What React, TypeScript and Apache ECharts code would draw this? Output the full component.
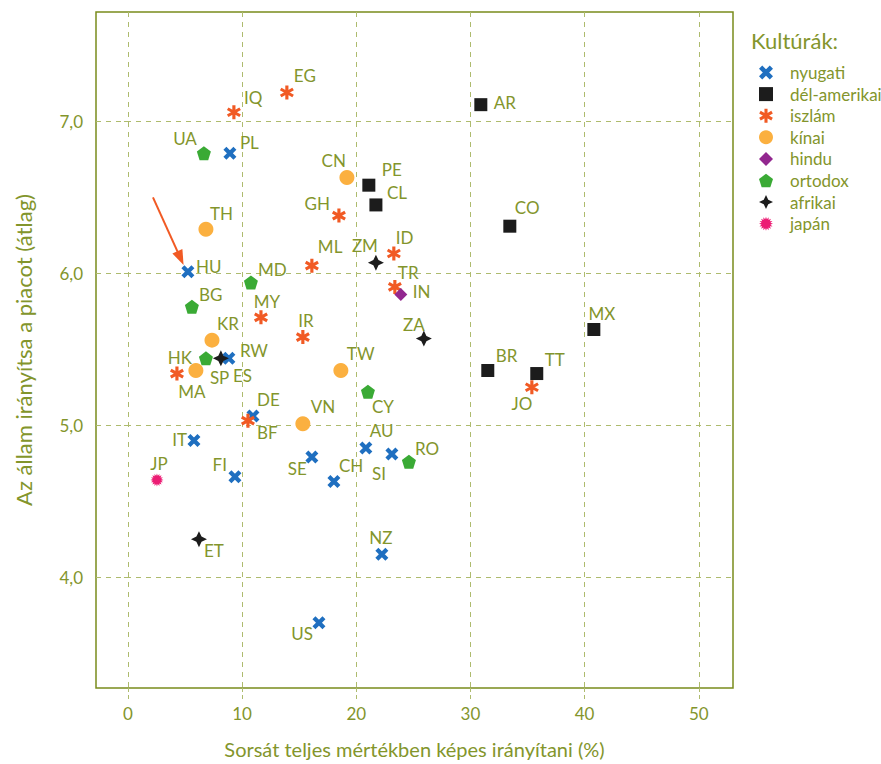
import React, { useEffect, useRef } from 'react';
import * as echarts from 'echarts';

type Pt = [string, number, number];

const categories = ['nyugati', 'dél-amerikai', 'iszlám', 'kínai', 'hindu', 'ortodox', 'afrikai', 'japán'];

const nyugati: Pt[] = [
  ['PL', 8.93, 6.79], ['HU', 5.25, 6.01], ['ES', 8.84, 5.44], ['DE', 10.95, 5.06],
  ['IT', 5.78, 4.90], ['AU', 20.84, 4.85], ['SI', 23.12, 4.81], ['SE', 16.11, 4.79],
  ['FI', 9.37, 4.66], ['CH', 18.04, 4.63], ['NZ', 22.24, 4.15], ['US', 16.73, 3.70],
];
const delAmerikai: Pt[] = [
  ['AR', 30.91, 7.11], ['PE', 21.10, 6.58], ['CL', 21.72, 6.45], ['CO', 33.45, 6.31],
  ['MX', 40.81, 5.63], ['BR', 31.52, 5.36], ['TT', 35.81, 5.34],
];
const iszlam: Pt[] = [
  ['IQ', 9.28, 7.06], ['EG', 13.92, 7.19], ['GH', 18.48, 6.38], ['ML', 16.11, 6.05],
  ['ID', 23.29, 6.13], ['TR', 23.38, 5.91], ['MY', 11.65, 5.71], ['IR', 15.32, 5.58],
  ['MA', 4.29, 5.34], ['BF', 10.51, 5.03], ['JO', 35.38, 5.25],
];
const kinai: Pt[] = [
  ['CN', 19.18, 6.63], ['TH', 6.83, 6.29], ['KR', 7.36, 5.56], ['SP', 5.95, 5.36],
  ['TW', 18.65, 5.36], ['VN', 15.32, 5.01],
];
const hindu: Pt[] = [['IN', 23.9, 5.86]];
const ortodox: Pt[] = [
  ['UA', 6.65, 6.79], ['MD', 10.77, 5.94], ['BG', 5.6, 5.78], ['HK', 6.83, 5.44],
  ['CY', 21.02, 5.22], ['RO', 24.61, 4.76],
];
const afrikai: Pt[] = [['ZM', 21.72, 6.07], ['ZA', 25.92, 5.57], ['RW', 8.14, 5.44], ['ET', 6.22, 4.25]];
const japan: Pt[] = [['JP', 2.54, 4.64]];

const xTicks = [0, 10, 20, 30, 40, 50];
const yTicks = [4, 5, 6, 7];
const arrowFrom = [2.19, 6.5];
const arrowTo = [4.6, 6.1];

// label placement: [align, dx, dy] relative to marker centre (styling, not data)
const labelPlacement: Record<string, [string, number, number]> = {
  IQ: ['left', 10, -15], EG: ['left', 7, -17], UA: ['right', -7, -15], PL: ['left', 10, -11],
  CN: ['right', -1, -17], PE: ['left', 13, -16], CL: ['left', 11, -12], GH: ['right', -9, -12],
  TH: ['left', 4, -16], ML: ['left', 6, -19], ZM: ['right', 2, -17], ID: ['left', 2, -16],
  HU: ['left', 8, -5], MD: ['left', 7, -13], TR: ['left', 3, -14], IN: ['left', 12, -3],
  BG: ['left', 7, -12], MY: ['center', 6, -16], IR: ['center', 3, -17], KR: ['left', 5, -17],
  ZA: ['right', 1, -14], HK: ['right', -14, -1], RW: ['left', 19, -8], ES: ['left', 4, 17],
  MA: ['center', 15, 18], SP: ['left', 14, 7], TW: ['left', 6, -17], CY: ['left', 4, 15],
  DE: ['left', 4, -17], BF: ['left', 9, 12], VN: ['left', 8, -17], IT: ['right', -7, -1],
  AU: ['left', 4, -17], SI: ['center', -13, 19], RO: ['left', 6, -13], SE: ['right', -5, 11],
  JP: ['center', 2, -16], FI: ['right', -8, -12], CH: ['left', 5, -16], ET: ['left', 5, 11],
  NZ: ['center', -1, -17], US: ['right', -6, 11], AR: ['left', 13, -2], CO: ['left', 5, -19],
  MX: ['center', 8, -16], BR: ['left', 8, -15], TT: ['left', 8, -14], JO: ['center', -10, 16],
};

const OLIVE = '#83952c';
const AXIS = '#7a8c1c';
const GRID = '#aebb6e';
const FONT = 'Lato';
const WEIGHT = 400;

const rot = (x: number, y: number, deg: number) => {
  const a = (deg * Math.PI) / 180;
  return [x * Math.cos(a) - y * Math.sin(a), x * Math.sin(a) + y * Math.cos(a)];
};
const sub = (pts: number[][]) =>
  'M' + pts.map((p) => p[0].toFixed(2) + ' ' + p[1].toFixed(2)).join(' L') + ' Z';
const bar = (w: number, L: number, deg: number) =>
  sub([[-w, -L], [w, -L], [w, L], [-w, L]].map(([x, y]) => rot(x, y, deg)));

const crossPath = 'path://' + bar(3, 10, 45) + ' ' + bar(3, 10, -45);
const asteriskPath = 'path://' + bar(2.2, 10, 0) + ' ' + bar(2.2, 10, 60) + ' ' + bar(2.2, 10, 120);
const pentagonPath =
  'path://' + sub([0, 1, 2, 3, 4].map((i) => rot(0, -10, i * 72)));
const starPath = 'path://' + sub([
  [0, -10], [3.2, -3.2], [10, 0], [3.2, 3.2], [0, 10], [-3.2, 3.2], [-10, 0], [-3.2, -3.2],
]);
const burstPath =
  'path://' + sub(Array.from({ length: 32 }, (_, i) => rot(0, i % 2 === 0 ? -10 : -6.5, i * 11.25)));

const groups: { name: string; pts: Pt[]; symbol: string; size: number; color: string }[] = [
  { name: categories[0], pts: nyugati, symbol: crossPath, size: 13, color: '#1f6fc0' },
  { name: categories[1], pts: delAmerikai, symbol: 'rect', size: 13, color: '#1c1c1c' },
  { name: categories[2], pts: iszlam, symbol: asteriskPath, size: 14, color: '#f15a24' },
  { name: categories[3], pts: kinai, symbol: 'circle', size: 15, color: '#fbb040' },
  { name: categories[4], pts: hindu, symbol: 'diamond', size: 13, color: '#92278f' },
  { name: categories[5], pts: ortodox, symbol: pentagonPath, size: 14, color: '#3aaa35' },
  { name: categories[6], pts: afrikai, symbol: starPath, size: 16, color: '#1c1c1c' },
  { name: categories[7], pts: japan, symbol: burstPath, size: 13, color: '#ec1c74' },
];

export default function App() {
  const ref = useRef<HTMLDivElement>(null);
  useEffect(() => {
    if (!ref.current) return;
    const chart = echarts.init(ref.current, null, { renderer: 'svg' });
    const series: any[] = groups.map((g) => ({
      type: 'scatter',
      name: g.name,
      symbol: g.symbol,
      symbolSize: g.size,
      itemStyle: { color: g.color, opacity: 1 },
      emphasis: { disabled: true },
      data: g.pts.map(([code, x, y]) => {
        const p = labelPlacement[code] || ['left', 8, -14];
        return {
          name: code,
          value: [x, y],
          label: { align: p[0], offset: [p[1], p[2]] },
        };
      }),
      label: {
        show: true,
        position: 'inside',
        formatter: '{b}',
        color: OLIVE,
        fontSize: 17,
        fontFamily: FONT,
        fontWeight: WEIGHT,
        verticalAlign: 'middle',
      },
    }));
    series.push({
      type: 'scatter',
      name: 'arrow',
      data: [],
      silent: true,
      markLine: {
        silent: true,
        animation: false,
        symbol: ['none', 'triangle'],
        symbolSize: [11, 15],
        label: { show: false },
        lineStyle: { color: '#f15a24', width: 2, type: 'solid' },
        data: [[{ coord: arrowFrom }, { coord: arrowTo }]],
      },
    });
    chart.setOption({
      animation: false,
      textStyle: { fontFamily: FONT, fontWeight: WEIGHT },
      title: {
        text: 'Kultúrák:',
        left: 751,
        top: 29,
        padding: 0,
        textStyle: { fontSize: 22, fontWeight: WEIGHT, color: OLIVE, fontFamily: FONT },
      },
      legend: {
        data: categories,
        orient: 'vertical',
        left: 759,
        top: 64,
        padding: 0,
        itemWidth: 14,
        itemHeight: 14,
        itemGap: 4.6,
        selectedMode: false,
        textStyle: {
          fontSize: 17,
          color: OLIVE,
          fontFamily: FONT,
          fontWeight: WEIGHT,
          padding: [0, 0, 0, 12],
        },
      },
      grid: {
        left: 96,
        top: 12,
        right: 148,
        bottom: 76,
        show: true,
        borderColor: AXIS,
        borderWidth: 1.5,
        backgroundColor: 'transparent',
      },
      xAxis: {
        type: 'value',
        min: -2.8,
        max: 53,
        name: 'Sorsát teljes mértékben képes irányítani (%)',
        nameLocation: 'middle',
        nameGap: 51,
        nameTextStyle: { fontSize: 20, color: OLIVE, fontFamily: FONT, fontWeight: WEIGHT },
        axisLine: { show: false },
        axisTick: { show: true, customValues: xTicks, length: 12, lineStyle: { color: GRID, type: [4, 3] } },
        axisLabel: {
          customValues: xTicks,
          margin: 17,
          fontSize: 17,
          color: OLIVE,
          fontFamily: FONT,
          fontWeight: WEIGHT,
        },
        splitLine: { show: true, lineStyle: { color: GRID, type: [5, 5], width: 1 } },
      },
      yAxis: {
        type: 'value',
        min: 3.27,
        max: 7.72,
        name: 'Az állam irányítsa a piacot (átlag)',
        nameLocation: 'middle',
        nameGap: 62,
        nameTextStyle: { fontSize: 22, color: OLIVE, fontFamily: FONT, fontWeight: WEIGHT },
        axisLine: { show: false },
        axisTick: { show: true, customValues: yTicks, length: 8, lineStyle: { color: GRID, type: [4, 3] } },
        axisLabel: {
          customValues: yTicks,
          margin: 13,
          fontSize: 17,
          color: OLIVE,
          fontFamily: FONT,
          fontWeight: WEIGHT,
          formatter: (v: number) => v.toFixed(1).replace('.', ','),
        },
        splitLine: { show: true, lineStyle: { color: GRID, type: [5, 5], width: 1 } },
      },
      series,
    });
    return () => chart.dispose();
  }, []);
  return (
    <div
      ref={ref}
      style={{ position: 'fixed', left: 0, top: 0, width: 881, height: 764, background: '#fff' }}
    />
  );
}
